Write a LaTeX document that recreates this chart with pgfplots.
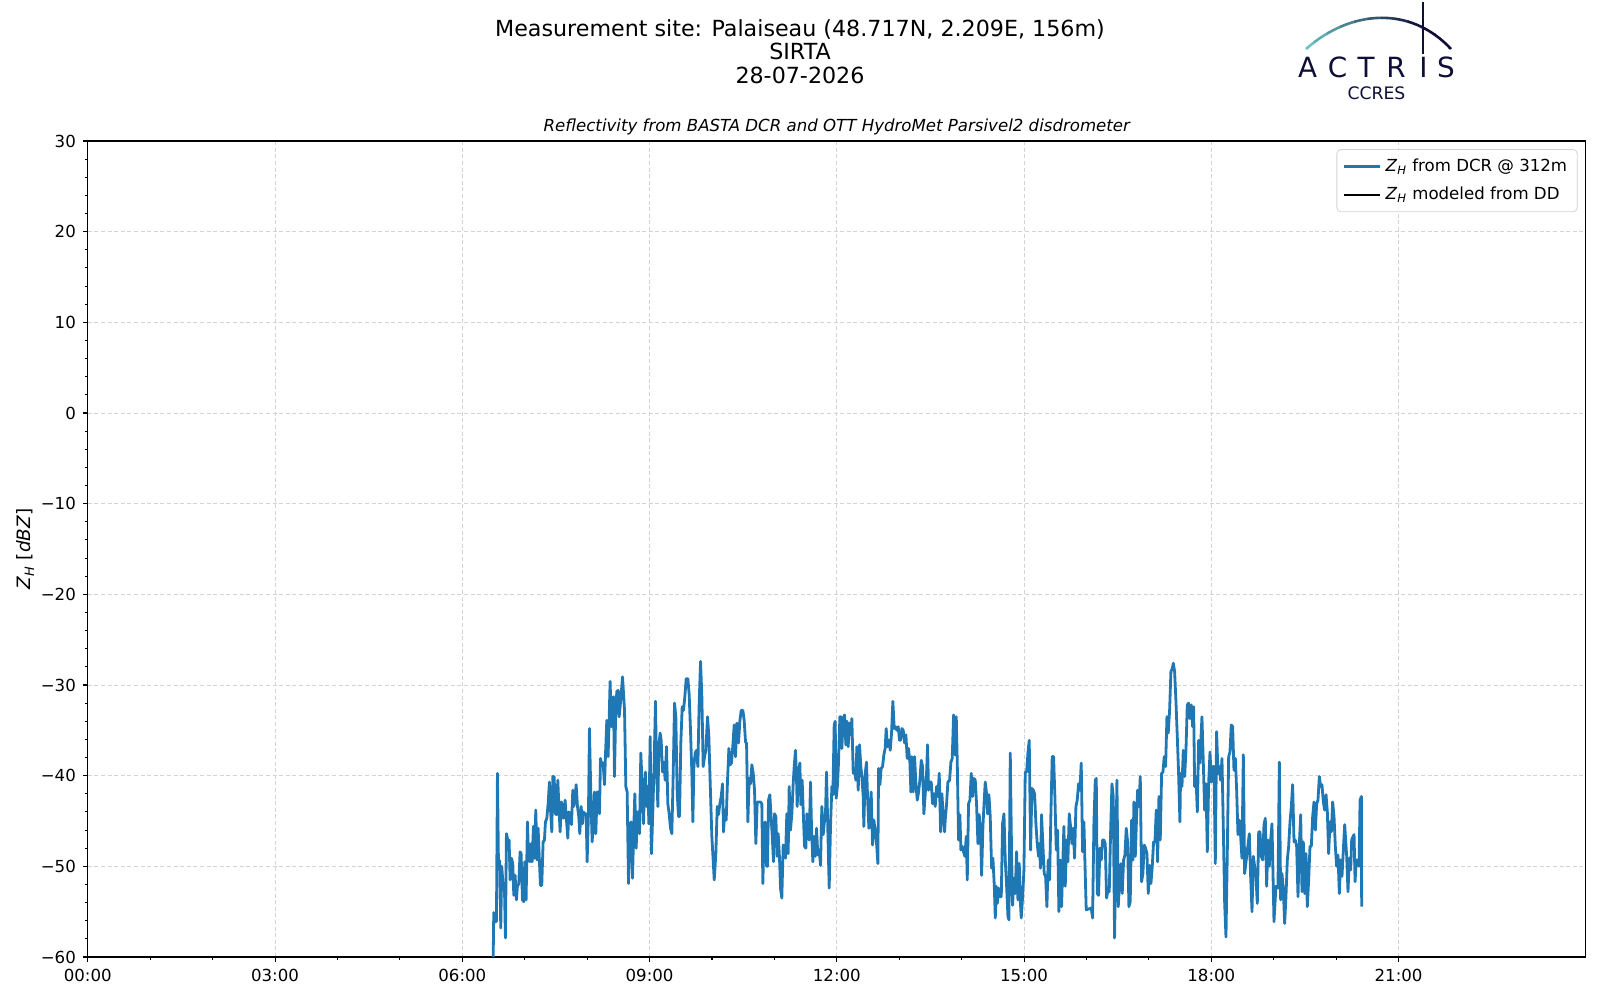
\documentclass[border=0pt]{standalone}
\usepackage{pgfplots}
\pgfplotsset{compat=1.18}
\usepackage{fontspec}
\setmainfont{DejaVu Sans}
\definecolor{mplblue}{HTML}{1F77B4}
\definecolor{navy}{HTML}{0E0E36}
\definecolor{teal}{HTML}{6CC4C2}
\definecolor{gridc}{HTML}{D3D3D3}
\newcommand{\ZH}{\textit{Z}\textsubscript{\textit{H}}}
\begin{document}
\begin{tikzpicture}
\begin{axis}[
  at={(43.9pt,21.5pt)}, anchor=south west,
  width=749pt, height=408pt, scale only axis,
  xmin=0, xmax=24, ymin=-60, ymax=30,
  xtick={0,3,6,9,12,15,18,21},
  xticklabels={00:00,03:00,06:00,09:00,12:00,15:00,18:00,21:00},
  ytick={-60,-50,-40,-30,-20,-10,0,10,20,30},
  yticklabels={−60,−50,−40,−30,−20,−10,0,10,20,30},
  minor x tick num=2, minor y tick num=4,
  tick align=outside, tick pos=left,
  major tick length=2.45pt, minor tick length=1.4pt,
  every tick/.style={black, line width=0.55pt},
  axis line style={line width=0.55pt},
  grid=major,
  major grid style={gridc, line width=0.5pt, dash pattern=on 2pt off 1.3pt},
  ticklabel style={font=\fontsize{8.3}{10}\selectfont},
  ylabel={\ZH{} [\textit{dBZ}]},
  ylabel style={font=\fontsize{9.2}{11}\selectfont, yshift=-3.5pt},
  legend cell align=left,
  legend style={font=\fontsize{8.3}{10}\selectfont, draw=gridc, rounded corners=2pt,
    fill=white, fill opacity=0.8, text opacity=1, at={(0.9945,0.99)}, anchor=north east,
    inner xsep=3pt, inner ysep=2.5pt, row sep=2.5pt},
]
\addplot[mplblue, line width=1.4pt, line join=round,
  legend image code/.code={\draw[mplblue, line width=1.4pt, opacity=1] (0pt,0pt) -- (18pt,0pt);}] table {
6.493 -61
6.504 -55.1
6.526 -56.1
6.547 -56.1
6.563 -39.75
6.579 -49.5
6.600 -49.4
6.616 -56.8
6.632 -50.0
6.654 -52.2
6.675 -52.2
6.691 -57.9
6.707 -46.4
6.729 -47.1
6.750 -47.1
6.766 -51.5
6.787 -49.1
6.809 -49.7
6.825 -53.2
6.846 -51.0
6.867 -53.7
6.883 -52.2
6.905 -51.9
6.926 -48.4
6.942 -48.6
6.964 -53.7
6.985 -53.9
7.001 -49.5
7.022 -53.7
7.044 -45.1
7.060 -48.6
7.081 -49.5
7.102 -47.5
7.118 -49.5
7.140 -45.6
7.156 -49.1
7.177 -43.8
7.199 -49.3
7.215 -45.8
7.236 -49.5
7.252 -52.1
7.273 -52.1
7.295 -47.3
7.316 -47.1
7.332 -45.1
7.354 -44.7
7.375 -43.1
7.396 -40.7
7.412 -43.6
7.434 -46.2
7.450 -40.1
7.471 -40.1
7.492 -44.2
7.508 -44.3
7.530 -40.5
7.546 -43.1
7.567 -46.2
7.589 -42.9
7.610 -44.2
7.626 -44.7
7.647 -42.7
7.669 -44.9
7.690 -46.9
7.706 -44.0
7.727 -44.2
7.749 -45.4
7.770 -41.6
7.786 -43.4
7.808 -42.3
7.824 -41.0
7.845 -43.4
7.866 -44.5
7.882 -46.4
7.904 -43.4
7.925 -45.3
7.941 -44.0
7.962 -44.2
7.984 -44.2
8.000 -49.5
8.021 -44.2
8.037 -34.8
8.059 -42.0
8.080 -47.3
8.101 -45.1
8.117 -41.8
8.139 -46.4
8.160 -41.8
8.176 -41.8
8.198 -44.2
8.214 -38.1
8.235 -38.8
8.256 -38.6
8.278 -41.0
8.294 -37.7
8.315 -33.9
8.336 -37.9
8.352 -34.0
8.368 -29.6
8.390 -34.6
8.406 -31.5
8.422 -31.3
8.438 -40.1
8.454 -34.2
8.475 -30.7
8.497 -30.6
8.513 -33.5
8.534 -32.0
8.567 -29.1
8.599 -32.8
8.620 -41.2
8.641 -41.8
8.663 -51.9
8.684 -45.4
8.705 -45.1
8.727 -51.3
8.748 -45.6
8.764 -42.0
8.786 -48.0
8.802 -44.0
8.823 -44.0
8.839 -46.4
8.860 -37.5
8.882 -41.2
8.903 -45.3
8.919 -41.4
8.935 -39.6
8.951 -43.4
8.973 -41.2
8.989 -45.3
9.010 -35.7
9.031 -48.6
9.053 -43.8
9.074 -38.6
9.095 -31.8
9.111 -39.0
9.133 -43.4
9.149 -36.6
9.170 -35.3
9.186 -36.1
9.208 -39.6
9.229 -38.5
9.250 -40.5
9.272 -36.8
9.293 -43.1
9.314 -44.2
9.336 -45.8
9.357 -46.4
9.378 -40.1
9.400 -32.0
9.421 -33.5
9.443 -42.0
9.464 -44.5
9.480 -44.5
9.501 -36.4
9.523 -32.4
9.544 -32.8
9.565 -31.3
9.587 -29.3
9.614 -29.3
9.635 -31.1
9.656 -35.0
9.678 -39.75
9.694 -45.1
9.710 -39.0
9.731 -37.5
9.752 -37.2
9.774 -39.0
9.795 -32.0
9.817 -27.4
9.838 -31.3
9.859 -39.0
9.881 -37.9
9.902 -37.2
9.929 -33.5
9.950 -35.7
9.971 -40.7
9.998 -46.7
10.019 -49.3
10.036 -51.5
10.062 -48.6
10.084 -43.4
10.105 -44.3
10.126 -43.1
10.148 -42.3
10.169 -40.9
10.185 -46.2
10.206 -43.8
10.228 -44.9
10.249 -40.5
10.271 -37.0
10.292 -38.8
10.313 -38.6
10.335 -36.6
10.356 -34.4
10.377 -37.9
10.399 -34.2
10.425 -36.4
10.447 -34.0
10.468 -32.8
10.495 -32.8
10.516 -33.9
10.538 -36.3
10.554 -36.4
10.575 -45.1
10.596 -40.3
10.618 -40.9
10.639 -38.8
10.661 -39.75
10.682 -41.6
10.703 -47.5
10.725 -42.9
10.746 -42.9
10.777 -42.9
10.799 -43.1
10.815 -51.9
10.831 -47.5
10.852 -45.1
10.874 -50.0
10.890 -50.0
10.906 -42.7
10.927 -42.1
10.943 -44.0
10.964 -46.5
10.986 -49.5
11.002 -44.2
11.023 -44.5
11.045 -48.9
11.061 -46.4
11.082 -49.1
11.098 -52.4
11.119 -53.5
11.141 -47.65
11.162 -47.8
11.178 -49.1
11.199 -44.2
11.221 -48.6
11.237 -41.2
11.258 -46.0
11.280 -44.2
11.301 -40.9
11.317 -39.0
11.338 -37.2
11.354 -40.1
11.365 -43.4
11.386 -39.75
11.408 -38.6
11.424 -43.2
11.445 -40.5
11.467 -44.9
11.483 -47.8
11.504 -48.0
11.520 -44.2
11.536 -45.6
11.557 -47.1
11.579 -40.7
11.595 -45.8
11.616 -49.5
11.632 -46.7
11.654 -48.9
11.675 -45.8
11.696 -48.75
11.718 -48.2
11.739 -49.9
11.760 -43.4
11.782 -46.5
11.798 -45.3
11.819 -44.2
11.835 -39.6
11.857 -46.2
11.878 -52.4
11.899 -45.6
11.921 -41.2
11.937 -42.1
11.958 -34.4
11.974 -34.0
11.990 -42.5
12.011 -41.0
12.027 -38.6
12.049 -33.5
12.065 -33.5
12.081 -37.0
12.102 -33.7
12.124 -33.3
12.145 -36.6
12.161 -34.0
12.182 -36.8
12.204 -34.2
12.225 -35.5
12.241 -33.7
12.263 -39.75
12.284 -39.2
12.305 -40.5
12.321 -36.8
12.343 -41.6
12.364 -36.6
12.385 -39.0
12.401 -40.1
12.423 -42.3
12.433 -45.6
12.455 -39.75
12.476 -38.5
12.492 -42.3
12.514 -45.8
12.535 -43.4
12.551 -41.8
12.572 -47.65
12.594 -44.9
12.615 -46.2
12.637 -47.5
12.658 -49.7
12.669 -39.2
12.690 -41.0
12.711 -39.2
12.733 -39.0
12.754 -37.7
12.775 -37.0
12.791 -34.8
12.813 -36.8
12.834 -36.1
12.856 -37.2
12.877 -35.3
12.898 -31.8
12.920 -34.8
12.941 -34.6
12.962 -35.0
12.984 -34.6
13.005 -36.1
13.021 -36.1
13.043 -34.8
13.064 -35.0
13.086 -36.4
13.107 -35.5
13.128 -38.1
13.150 -37.0
13.171 -38.6
13.187 -41.8
13.203 -37.9
13.224 -41.8
13.246 -37.9
13.267 -40.9
13.289 -42.7
13.310 -41.8
13.331 -40.5
13.353 -38.3
13.374 -39.0
13.395 -44.2
13.417 -42.0
13.438 -39.75
13.454 -36.6
13.470 -41.6
13.492 -40.7
13.513 -40.7
13.534 -43.1
13.556 -42.0
13.577 -43.4
13.598 -41.2
13.620 -42.3
13.641 -39.75
13.663 -46.2
13.684 -42.0
13.705 -44.5
13.727 -46.2
13.737 -44.9
13.759 -43.1
13.780 -40.7
13.807 -40.5
13.828 -38.5
13.849 -38.1
13.871 -33.3
13.892 -37.7
13.914 -33.5
13.930 -38.6
13.951 -47.1
13.972 -44.3
13.988 -48.2
14.010 -47.8
14.031 -48.4
14.052 -48.9
14.074 -46.7
14.090 -51.5
14.111 -43.1
14.133 -42.7
14.154 -39.75
14.175 -42.3
14.197 -40.3
14.218 -40.5
14.239 -43.1
14.261 -47.5
14.282 -44.3
14.304 -46.4
14.320 -51.0
14.341 -45.6
14.362 -42.7
14.378 -40.7
14.400 -42.0
14.416 -44.2
14.437 -42.1
14.458 -44.5
14.480 -50.2
14.501 -49.1
14.523 -52.1
14.539 -55.7
14.555 -52.2
14.571 -54.1
14.592 -52.4
14.613 -53.35
14.635 -53.35
14.656 -45.3
14.678 -44.2
14.699 -49.3
14.720 -52.1
14.742 -55.55
14.758 -55.9
14.779 -37.5
14.800 -48.6
14.816 -54.3
14.838 -51.3
14.859 -53.0
14.880 -48.4
14.902 -53.7
14.923 -49.7
14.939 -53.7
14.955 -55.7
14.977 -53.35
14.998 -50.4
15.019 -39.6
15.041 -39.6
15.062 -37.5
15.083 -36.1
15.105 -48.2
15.126 -41.4
15.148 -41.6
15.169 -42.0
15.190 -45.3
15.212 -47.65
15.233 -48.9
15.243 -47.5
15.264 -50.2
15.280 -44.3
15.302 -47.65
15.323 -50.8
15.345 -51.1
15.366 -54.45
15.387 -49.3
15.409 -51.5
15.430 -44.2
15.451 -37.9
15.473 -37.9
15.494 -42.3
15.516 -48.2
15.537 -46.0
15.558 -55.0
15.580 -49.3
15.601 -54.45
15.622 -49.3
15.638 -45.6
15.660 -52.2
15.681 -47.1
15.702 -49.5
15.724 -44.2
15.745 -45.6
15.767 -47.5
15.788 -45.8
15.809 -49.1
15.831 -43.4
15.852 -42.7
15.873 -40.9
15.895 -41.6
15.916 -38.6
15.938 -48.4
15.959 -45.1
15.980 -50.8
15.996 -54.8
16.076 -54.6
16.098 -55.7
16.119 -45.3
16.141 -40.5
16.157 -40.3
16.173 -53.0
16.194 -53.2
16.215 -48.0
16.237 -49.3
16.258 -47.1
16.279 -47.1
16.301 -47.5
16.322 -53.5
16.344 -52.6
16.365 -52.8
16.386 -46.4
16.408 -40.9
16.429 -42.3
16.450 -57.9
16.472 -47.8
16.488 -40.5
16.509 -54.45
16.530 -51.9
16.552 -49.7
16.573 -53.0
16.595 -49.3
16.616 -48.75
16.637 -45.8
16.659 -47.3
16.680 -54.45
16.701 -53.9
16.723 -44.9
16.744 -49.3
16.760 -42.9
16.782 -48.9
16.803 -44.5
16.819 -41.6
16.840 -43.4
16.862 -40.1
16.883 -51.7
16.904 -50.8
16.926 -47.65
16.947 -48.0
16.969 -48.6
16.990 -53.0
17.011 -49.9
17.033 -51.9
17.054 -50.0
17.075 -47.3
17.097 -47.3
17.118 -43.8
17.139 -49.5
17.161 -42.3
17.182 -47.1
17.204 -39.75
17.225 -39.6
17.246 -37.9
17.268 -39.0
17.289 -33.5
17.310 -35.3
17.332 -32.8
17.353 -28.5
17.375 -28.2
17.391 -27.6
17.412 -28.5
17.433 -31.7
17.455 -35.7
17.476 -39.75
17.497 -45.1
17.508 -39.75
17.530 -41.2
17.551 -37.2
17.573 -40.1
17.594 -37.2
17.615 -32.2
17.637 -32.0
17.658 -33.7
17.679 -32.2
17.701 -34.6
17.717 -32.4
17.733 -41.2
17.754 -40.1
17.776 -44.0
17.797 -36.1
17.818 -38.6
17.834 -35.9
17.850 -33.5
17.872 -38.6
17.893 -43.8
17.914 -40.9
17.936 -48.4
17.957 -40.9
17.979 -37.4
18.000 -40.7
18.021 -39.0
18.043 -39.0
18.064 -49.7
18.085 -35.15
18.107 -39.75
18.128 -39.0
18.150 -40.5
18.171 -38.1
18.192 -45.6
18.214 -54.1
18.235 -57.8
18.256 -48.6
18.278 -37.9
18.299 -37.4
18.320 -34.4
18.342 -34.6
18.363 -39.4
18.385 -38.1
18.406 -41.6
18.427 -46.5
18.449 -44.9
18.470 -46.7
18.491 -49.1
18.513 -37.7
18.534 -50.8
18.609 -46.4
18.630 -51.1
18.652 -55.0
18.673 -48.9
18.694 -50.0
18.716 -51.3
18.737 -54.1
18.759 -46.2
18.780 -46.2
18.801 -48.9
18.823 -49.3
18.844 -45.4
18.865 -44.7
18.887 -52.2
18.908 -47.1
18.929 -50.0
18.951 -47.1
18.972 -45.3
19.004 -56.1
19.036 -52.2
19.068 -52.4
19.090 -38.5
19.111 -53.7
19.132 -50.8
19.154 -52.6
19.175 -56.3
19.196 -53.35
19.218 -49.3
19.239 -47.8
19.261 -45.1
19.282 -43.4
19.303 -41.0
19.325 -47.3
19.346 -47.1
19.367 -47.8
19.389 -53.35
19.410 -47.65
19.432 -44.3
19.453 -52.8
19.474 -47.3
19.496 -53.0
19.517 -48.6
19.538 -54.45
19.560 -51.5
19.581 -47.8
19.602 -47.8
19.624 -44.5
19.645 -42.9
19.667 -46.0
19.688 -43.1
19.709 -42.7
19.731 -40.1
19.752 -41.2
19.773 -41.0
19.795 -42.9
19.816 -43.8
19.838 -42.1
19.859 -44.0
19.880 -48.6
19.902 -45.1
19.923 -46.2
19.944 -42.9
19.966 -44.5
19.987 -47.8
20.008 -50.0
20.030 -48.75
20.051 -53.0
20.072 -49.3
20.094 -51.1
20.115 -48.2
20.137 -45.4
20.169 -48.9
20.190 -52.8
20.212 -49.1
20.233 -50.4
20.249 -47.1
20.271 -46.7
20.287 -46.5
20.303 -51.7
20.324 -49.3
20.345 -49.3
20.367 -50.0
20.383 -42.7
20.404 -42.3
20.409 -54.45
};
\addlegendentry{\ZH{} from DCR @ 312m}
\addlegendimage{legend image code/.code={\draw[black, line width=1.4pt, opacity=1] (0pt,0pt) -- (18pt,0pt);}}
\addlegendentry{\ZH{} modeled from DD}
\end{axis}
\begin{scope}[x=0.5pt,y=-0.5pt,shift={(0,500pt)}]
  % titles
  \node[anchor=base, font=\fontsize{11.1}{13}\selectfont] at (800,36.5) {Measurement site: Palaiseau (48.717N, 2.209E, 156m)};
  \node[anchor=base, font=\fontsize{11.1}{13}\selectfont] at (800,60) {SIRTA};
  \node[anchor=base, font=\fontsize{11.1}{13}\selectfont] at (800,83.5) {28-07-2026};
  \node[anchor=base, font=\fontsize{8.3}{10}\selectfont\itshape] at (836.8,131.5) {Reflectivity from BASTA DCR and OTT HydroMet Parsivel2 disdrometer};
  % logo
  \foreach \i in {0,...,11} {
    \pgfmathsetmacro{\xa}{1300+\i*13.5}
    \pgfmathsetmacro{\xb}{\xa+14}
    \pgfmathsetmacro{\pc}{max(0,100-\i*12)}
    \begin{scope}
      \clip (\xa,0) rectangle (\xb,60);
      \draw[color=teal!\pc!navy, line width=1.3pt] (1306,49) .. controls (1350,10) and (1410,5) .. (1451,49);
    \end{scope}
  }
  \draw[navy, line width=1.1pt] (1423,2) -- (1423,54);
  \foreach \x/\l in {1307.5/A,1337.5/C,1366/T,1396/R,1423.5/I,1446/S}
    \node[anchor=base, text=navy, font=\fontsize{13.9}{14}\selectfont, inner sep=0] at (\x,78) {\l};
  \node[anchor=base, text=navy, font=\fontsize{8.6}{10}\selectfont, inner sep=0] at (1376.5,100) {CCRES};
\end{scope}
\pgfresetboundingbox
\path[use as bounding box] (0,0) rectangle (800pt,500pt);
\end{tikzpicture}
\end{document}
